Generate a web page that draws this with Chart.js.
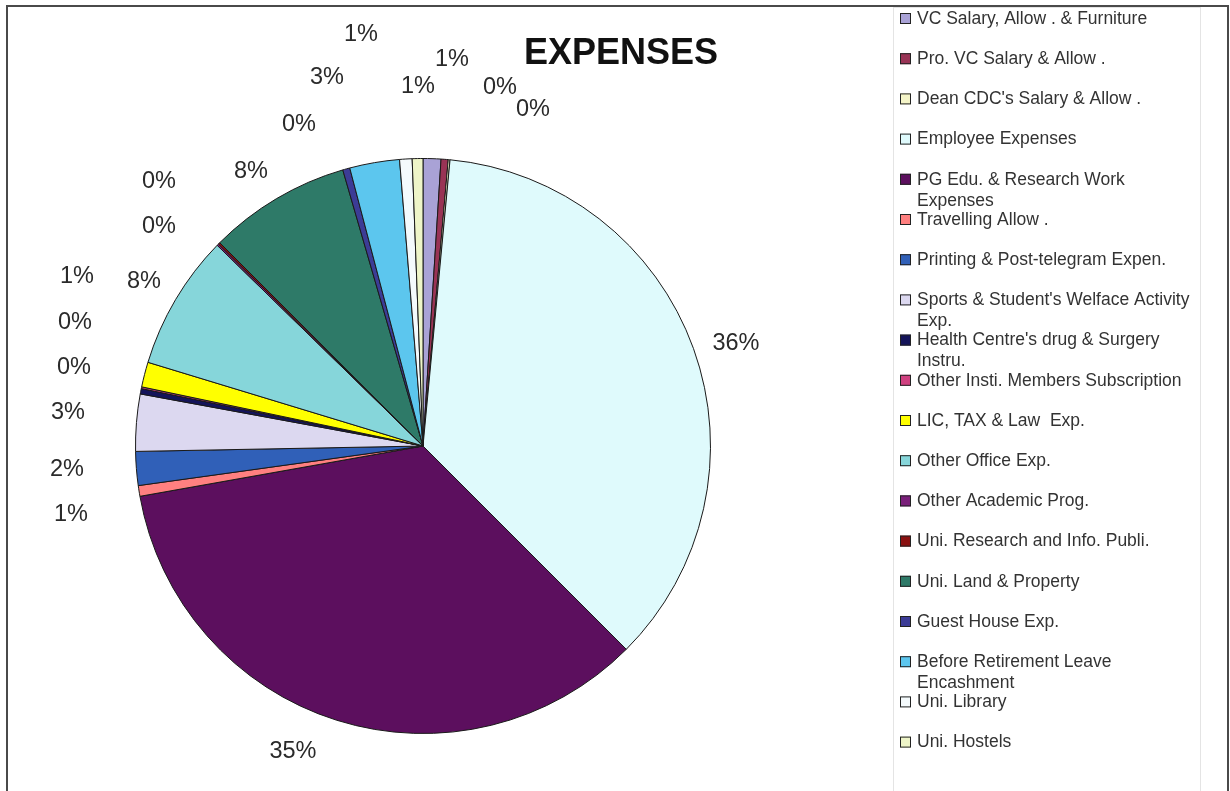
<!DOCTYPE html>
<html>
<head>
<meta charset="utf-8">
<script src="https://cdn.jsdelivr.net/npm/chart.js@4"></script>
<style>
  html, body { margin: 0; padding: 0; background: #fff; }
  #wrap { width: 1230px; height: 791px; position: relative; }
</style>
</head>
<body>
<div id="wrap"><canvas id="expensesChart" width="1230" height="791"></canvas></div>
<script>
const categories = [
  "VC Salary, Allow . & Furniture",
  "Pro. VC Salary & Allow .",
  "Dean CDC's Salary & Allow .",
  "Employee Expenses",
  "PG Edu. & Research Work Expenses",
  "Travelling Allow .",
  "Printing & Post-telegram Expen.",
  "Sports & Student's Welface Activity Exp.",
  "Health Centre's drug & Surgery Instru.",
  "Other Insti. Members Subscription",
  "LIC, TAX & Law  Exp.",
  "Other Office Exp.",
  "Other Academic Prog.",
  "Uni. Research and Info. Publi.",
  "Uni. Land & Property",
  "Guest House Exp.",
  "Before Retirement Leave Encashment",
  "Uni. Library",
  "Uni. Hostels",
];

// share of total expenses (percent)
const shares = [1.0, 0.4, 0.1, 36.0, 34.7, 0.6, 1.9, 3.2, 0.3, 0.1, 1.4, 7.6, 0.1, 0.1, 8.0, 0.4, 2.8, 0.7, 0.6];

const sliceColors = [
  "#a9a2d6", "#993355", "#f5f5c8", "#dffafc", "#5c0f5e", "#ff8080",
  "#3060b8", "#dcd8f0", "#14145a", "#d04080", "#ffff00", "#86d6da",
  "#7a1f7a", "#8a1010", "#2e7a68", "#3c3c96", "#5cc6ee", "#f4fafc", "#eef5c8",
];

// where excel put each percent label, relative to the pie centre
const labelOffsets = [
  [29, -386], [77, -358], [110, -336], [313, -102], [-130, 306], [-352, 69],
  [-356, 24], [-355, -33], [-349, -78], [-348, -123], [-346, -169], [-279, -164],
  [-264, -219], [-264, -264], [-172, -274], [-124, -321], [-96, -368], [-62, -411], [-5, -359],
];

const framePlugin = {
  id: "frame",
  beforeDraw(chart) {
    const ctx = chart.ctx;
    ctx.save();
    ctx.fillStyle = "#fff";
    ctx.fillRect(0, 0, chart.width, chart.height);
    ctx.strokeStyle = "#4a4a4a";
    ctx.lineWidth = 2;
    ctx.strokeRect(7, 6, 1221, 800);
    ctx.strokeStyle = "#e4e4e4";
    ctx.lineWidth = 1;
    ctx.strokeRect(893.5, 7.5, 307, 790);
    ctx.restore();
  },
};

const labelPlugin = {
  id: "pctLabels",
  afterDraw(chart) {
    const ctx = chart.ctx;
    const arc = chart.getDatasetMeta(0).data[0];
    const cx = arc.x, cy = arc.y;
    const data = chart.data.datasets[0].data;
    const total = data.reduce((a, b) => a + b, 0);
    ctx.save();
    ctx.font = "23.5px 'Liberation Sans', Arial, sans-serif";
    ctx.fillStyle = "#2a2a2a";
    ctx.textAlign = "center";
    ctx.textBaseline = "middle";
    data.forEach((v, i) => {
      const pct = Math.round((v / total) * 100);
      ctx.fillText(pct + "%", cx + labelOffsets[i][0], cy + labelOffsets[i][1]);
    });

    // title
    ctx.font = "bold 36px 'Liberation Sans', Arial, sans-serif";
    ctx.fillStyle = "#111";
    ctx.fillText("EXPENSES", 621, 54);

    // legend on the right
    const colors = chart.data.datasets[0].backgroundColor;
    ctx.font = "17.5px 'Liberation Sans', Arial, sans-serif";
    ctx.textAlign = "left";
    chart.data.labels.forEach((label, i) => {
      const y = 19 + i * 40.2;
      ctx.fillStyle = colors[i];
      ctx.fillRect(900, y - 6, 11, 11);
      ctx.strokeStyle = "#222";
      ctx.lineWidth = 1;
      ctx.strokeRect(900.5, y - 5.5, 10, 10);
      ctx.fillStyle = "#333";
      // wrap long names like excel does
      const words = label.split(" ");
      let line = "";
      let ly = y;
      words.forEach((w) => {
        const test = line ? line + " " + w : w;
        if (ctx.measureText(test).width > 285 && line) {
          ctx.fillText(line, 917, ly);
          line = w;
          ly += 21;
        } else {
          line = test;
        }
      });
      ctx.fillText(line, 917, ly);
    });
    ctx.restore();
  },
};

new Chart(document.getElementById("expensesChart"), {
  type: "pie",
  data: {
    labels: categories,
    datasets: [
      {
        data: shares,
        backgroundColor: sliceColors,
        borderColor: "#1a1a1a",
        borderWidth: 1,
      },
    ],
  },
  options: {
    responsive: false,
    animation: false,
    layout: { padding: { left: 135, right: 519, top: 158, bottom: 57 } },
    plugins: {
      legend: { display: false },
      tooltip: { enabled: false },
    },
  },
  plugins: [framePlugin, labelPlugin],
});
</script>
</body>
</html>
